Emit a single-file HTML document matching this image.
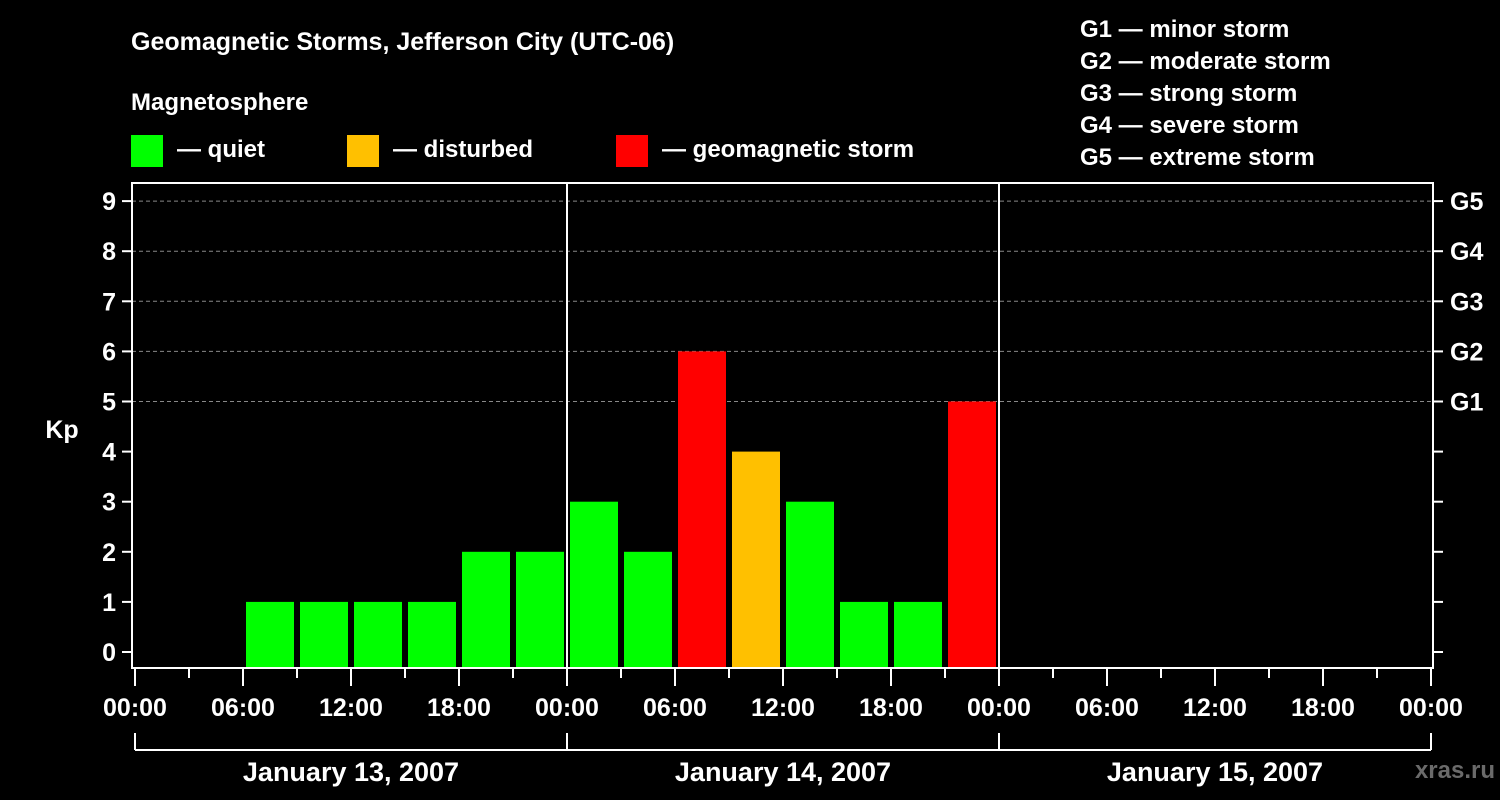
<!DOCTYPE html>
<html><head><meta charset="utf-8"><style>
html,body{margin:0;padding:0;background:#000;width:1500px;height:800px;overflow:hidden}
svg text{font-family:"Liberation Sans",sans-serif;font-weight:bold;fill:#fff}
</style></head><body>
<svg id="c" width="1500" height="800" xmlns="http://www.w3.org/2000/svg">
<text x="131" y="50" font-size="25">Geomagnetic Storms, Jefferson City (UTC-06)</text>
<text x="131" y="110" font-size="24">Magnetosphere</text>
<g>
<rect x="131" y="135" width="32" height="32" fill="#00ff00"/>
<text x="177" y="157" font-size="24">— quiet</text>
<rect x="347" y="135" width="32" height="32" fill="#ffc000"/>
<text x="393" y="157" font-size="24">— disturbed</text>
<rect x="616" y="135" width="32" height="32" fill="#ff0000"/>
<text x="662" y="157" font-size="24">— geomagnetic storm</text>
</g>
<g font-size="24">
<text x="1080" y="37">G1 — minor storm</text>
<text x="1080" y="69">G2 — moderate storm</text>
<text x="1080" y="101">G3 — strong storm</text>
<text x="1080" y="133">G4 — severe storm</text>
<text x="1080" y="165">G5 — extreme storm</text>
</g>
<text x="62" y="438" font-size="25" text-anchor="middle">Kp</text>
<text x="1495" y="778" font-size="24" text-anchor="end" fill="#666" style="fill:#6a6a6a">xras.ru</text>
<g id="plot"></g>
</svg>
<script>
const kpValues=[null,null,1,1,1,1,2,2,3,2,6,4,3,1,1,5];
const yTicks=[0,1,2,3,4,5,6,7,8,9];
const gLabels=["G1","G2","G3","G4","G5"];
const xLabels=["00:00","06:00","12:00","18:00","00:00","06:00","12:00","18:00","00:00","06:00","12:00","18:00","00:00"];
const dayLabels=["January 13, 2007","January 14, 2007","January 15, 2007"];
const NS="http://www.w3.org/2000/svg";
const g=document.getElementById('plot');
const X0=135,DAY=432,Y0=652,UNIT=50.1;
const x=h=>X0+h*DAY/24;
const y=v=>Y0-v*UNIT;
function mk(t,a,p){const e=document.createElementNS(NS,t);for(const k in a)e.setAttribute(k,a[k]);(p||g).appendChild(e);return e;}
// grid
for(let v=5;v<=9;v++){const l=mk('line',{x1:132,x2:1432,y1:y(v),y2:y(v),stroke:'#888','stroke-dasharray':'4,3','stroke-width':1});

}
// bars
kpValues.forEach((v,i)=>{if(v===null)return;
const c=v>=5?'#ff0000':(v>=4?'#ffc000':'#00ff00');
const top=y(v),bot=668;
const r=mk('rect',{x:x(i*3)+3,y:top,width:48,height:bot-top,fill:c});

});
// day separators
[1,2].forEach(d=>{const l=mk('line',{x1:x(d*24),x2:x(d*24),y1:183,y2:668,stroke:'#fff','stroke-width':2});

});
// frame
const f=mk('rect',{x:132,y:183,width:1301,height:485,fill:'none',stroke:'#fff','stroke-width':2});


// y ticks
yTicks.forEach(v=>{
mk('line',{x1:122,x2:132,y1:y(v),y2:y(v),stroke:'#fff','stroke-width':2});
mk('line',{x1:1433,x2:1443,y1:y(v),y2:y(v),stroke:'#fff','stroke-width':2});
const t=mk('text',{x:116,y:y(v)+9,'font-size':25,'text-anchor':'end'});t.textContent=v;

});
gLabels.forEach((s,i)=>{const t=mk('text',{x:1450,y:y(5+i)+9,'font-size':25});t.textContent=s;

});
// x ticks
for(let h=0;h<=72;h+=3){const long=h%6===0;mk('line',{x1:x(h),x2:x(h),y1:668,y2:long?686:678,stroke:'#fff','stroke-width':2});}
xLabels.forEach((s,i)=>{const t=mk('text',{x:x(i*6),y:716,'font-size':25,'text-anchor':'middle'});t.textContent=s;

});
// day brackets
mk('line',{x1:x(0),x2:x(72),y1:750,y2:750,stroke:'#fff','stroke-width':2});
for(let d=0;d<=3;d++)mk('line',{x1:x(d*24),x2:x(d*24),y1:733,y2:750,stroke:'#fff','stroke-width':2});
dayLabels.forEach((s,i)=>{const t=mk('text',{x:x(i*24+12),y:781,'font-size':27,'text-anchor':'middle'});t.textContent=s;

});
</script>
</body></html>
